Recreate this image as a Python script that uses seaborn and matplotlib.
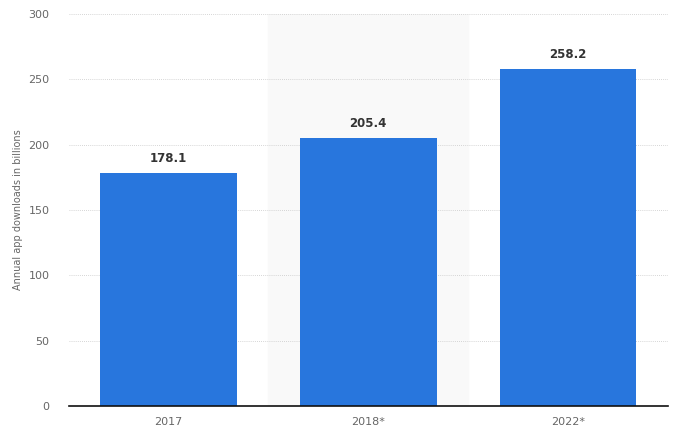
import seaborn as sns
import pandas as pd
from matplotlib import pyplot as plt

years = ['2017', '2018*', '2022*']
downloads = [178.1, 205.4, 258.2]

df = pd.DataFrame({'year': years, 'downloads': downloads})

sns.set_style('white')
plt.rcParams['font.family'] = ['DejaVu Sans']

fig = plt.figure(figsize=(6.82, 4.36), dpi=100)
ax = fig.add_axes([0.101, 0.069, 0.878, 0.899])

# light band behind the middle category
ax.axvspan(0.5, 1.5, color='#f9f9f9', zorder=0)

sns.barplot(data=df, x='year', y='downloads', color='#2876dd',
            width=0.685, saturation=1, linewidth=0, ax=ax, zorder=3)

for i, v in enumerate(downloads):
    ax.text(i, v + 6, '{:.1f}'.format(v), ha='center', va='bottom',
            fontsize=8.5, fontweight='bold', color='#333333', zorder=4)

ax.set_xlim(-0.5, 2.5)
ax.set_ylim(0, 300)
ax.set_yticks(range(0, 301, 50))
ax.yaxis.grid(True, linestyle=(0, (1, 1.5)), color='#c8c8c8', linewidth=0.6)
ax.set_axisbelow(True)

for side in ['top', 'right', 'left']:
    ax.spines[side].set_visible(False)
ax.spines['bottom'].set_color('#111111')
ax.spines['bottom'].set_linewidth(1.2)
ax.spines['bottom'].set_zorder(5)

ax.tick_params(axis='both', length=0, labelsize=8, labelcolor='#666666')
ax.tick_params(axis='y', pad=14)
ax.tick_params(axis='x', pad=8)
ax.set_xlabel('')
ax.set_ylabel('Annual app downloads in billions', fontsize=7, color='#666666',
              labelpad=4)

fig.savefig('out.png', dpi=100)
plt.close(fig)
